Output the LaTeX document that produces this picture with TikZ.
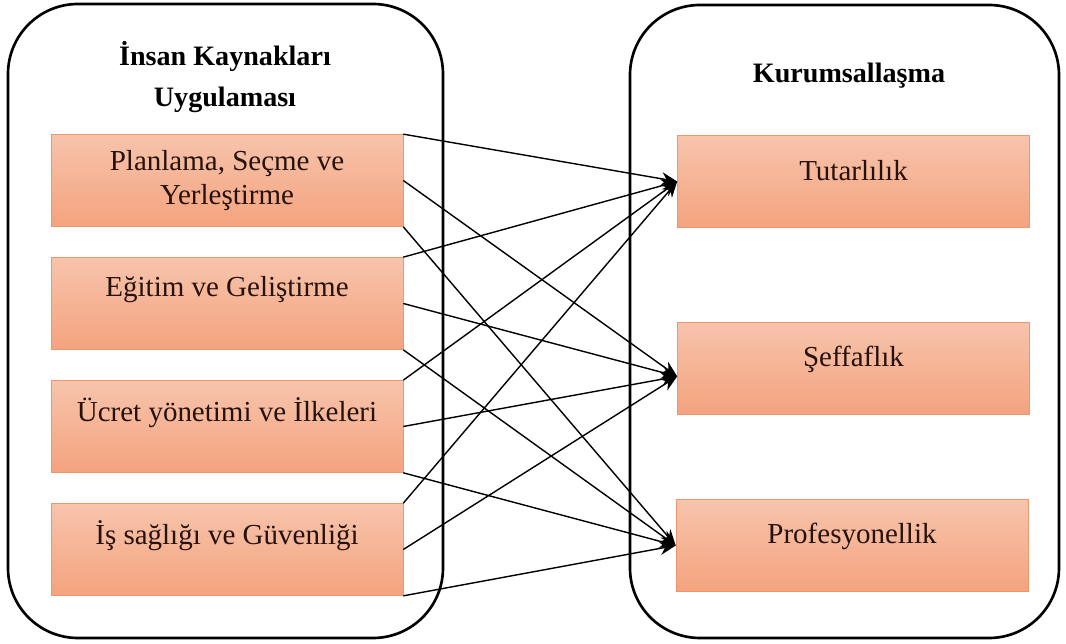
\documentclass[tikz,border=0pt]{standalone}
\usepackage{fontspec}
\setmainfont{Liberation Serif}
\usetikzlibrary{arrows.meta}

\definecolor{boxtop}{RGB}{247,196,172}
\definecolor{boxbottom}{RGB}{244,163,126}
\definecolor{boxline}{RGB}{236,150,110}
\definecolor{inktext}{RGB}{38,18,12}

\tikzset{
  panel/.style={line width=1.5pt, rounded corners=1.4cm},
  panelhead/.style={font=\fontsize{16}{23}\selectfont\bfseries, align=center},
  factor/.style={draw=boxline, top color=boxtop, bottom color=boxbottom,
    minimum width=7.04cm, minimum height=1.84cm, inner sep=0pt,
    align=center, text=inktext, font=\fontsize{16.5}{19.3}\selectfont},
  link/.style={line width=0.8pt, -{Stealth[length=9pt,width=7.5pt]}}
}

\begin{document}
\begin{tikzpicture}[x=0.02cm,y=-0.02cm]
        \useasboundingbox (0,0) rectangle (1066,644);

        % two panels
        \draw[panel] (8,4) rectangle (443,638);
        \draw[panel] (630,5) rectangle (1059,638);
        \node[panelhead] (IKtitle) at (225,77) {İnsan Kaynakları\\Uygulaması};
        \node[panelhead] (Ktitle) at (849,76) {Kurumsallaşma};

        \node[factor] (IK1) at (227,180.5) {Planlama, Seçme ve\\Yerleştirme};
        \node[factor] (IK2) at (227,303.5) {Eğitim ve Geliştirme\\\mbox{}};
        \node[factor] (IK3) at (227,426.5) {Ücret yönetimi ve İlkeleri\\\mbox{}};
        \node[factor] (IK4) at (227,549.5) {İş sağlığı ve Güvenliği\\\mbox{}};

        \node[factor] (K1) at (853.5,181.5) {Tutarlılık\\[-7pt]\mbox{}};
        \node[factor] (K2) at (853.5,368.5) {Şeffaflık\\[-5pt]\mbox{}};
        \node[factor] (K3) at (852,545.5) {Profesyonellik\\[-5pt]\mbox{}};

        \draw[link] (IK1.north east) -- (K1.west);
        \draw[link] (IK1.east) -- ([yshift=-4.5pt]K2.west);
        \draw[link] (IK1.south east) -- (K3.west);

        \draw[link] (IK2.north east) -- (K1.west);
        \draw[link] (IK2.east) -- ([yshift=-4.5pt]K2.west);
        \draw[link] (IK2.south east) -- (K3.west);

        \draw[link] (IK3.north east) -- (K1.west);
        \draw[link] (IK3.east) -- ([yshift=-4.5pt]K2.west);
        \draw[link] (IK3.south east) -- (K3.west);

        \draw[link] (IK4.north east) -- (K1.west);
        \draw[link] (IK4.east) -- ([yshift=-4.5pt]K2.west);
        \draw[link] (IK4.south east) -- (K3.west);
\end{tikzpicture}
\end{document}
